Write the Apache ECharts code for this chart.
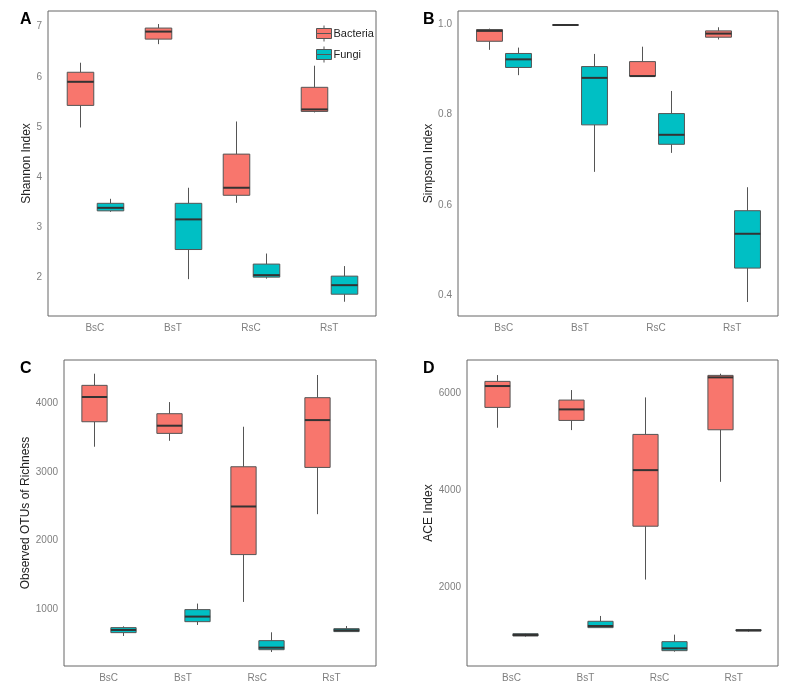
<!DOCTYPE html>
<html>
<head>
<meta charset="utf-8">
<title>Alpha diversity</title>
<script src="https://cdn.jsdelivr.net/npm/echarts@6/dist/echarts.min.js"></script>
<style>
    html, body { margin: 0; padding: 0; background: #fff; }
    #main { width: 789px; height: 689px; }
</style>
</head>
<body>
<div id="main"></div>
<script>
var groups = ['BsC', 'BsT', 'RsC', 'RsT'];

// each box: [min, Q1, median, Q3, max]
var shannonBacteria = [[4.99, 5.43, 5.90, 6.09, 6.28], [6.65, 6.75, 6.90, 6.97, 7.05], [3.49, 3.64, 3.79, 4.46, 5.11], [5.29, 5.31, 5.35, 5.79, 6.22]];
var shannonFungi = [[3.31, 3.33, 3.39, 3.48, 3.57], [1.97, 2.56, 3.16, 3.48, 3.79], [1.98, 2.01, 2.05, 2.27, 2.48], [1.52, 1.67, 1.85, 2.03, 2.23]];

var simpsonBacteria = [[0.943, 0.962, 0.985, 0.988, 0.990], [0.9975, 0.998, 0.998, 0.998, 0.9985], [0.885, 0.885, 0.885, 0.917, 0.950], [0.966, 0.971, 0.979, 0.985, 0.993]];
var simpsonFungi = [[0.887, 0.904, 0.922, 0.935, 0.948], [0.673, 0.777, 0.881, 0.906, 0.934], [0.715, 0.734, 0.755, 0.802, 0.852], [0.385, 0.460, 0.536, 0.587, 0.639]];

var otuBacteria = [[3367, 3732, 4093, 4263, 4433], [3454, 3562, 3674, 3849, 4019], [1102, 1793, 2495, 3075, 3659], [2383, 3065, 3756, 4083, 4414]];
var otuFungi = [[605, 654, 693, 727, 746], [766, 814, 888, 990, 1078], [371, 405, 435, 537, 659], [669, 669, 688, 712, 751]];

var aceBacteria = [[5290, 5710, 6152, 6248, 6379], [5241, 5441, 5669, 5862, 6069], [2152, 3255, 4414, 5152, 5917], [4172, 5248, 6331, 6372, 6407]];
var aceFungi = [[972, 986, 1007, 1034, 1041], [1159, 1159, 1193, 1290, 1400], [662, 683, 731, 869, 1014], [1076, 1090, 1103, 1117, 1131]];

var shannonTicks = [2, 3, 4, 5, 6, 7];
var simpsonTicks = [0.4, 0.6, 0.8, 1.0];
var otuTicks = [1000, 2000, 3000, 4000];
var aceTicks = [2000, 4000, 6000];

var BAC_COLOR = '#F8766D';
var FUN_COLOR = '#00BFC4';
var DODGE = 0.19;
var BOX_HALF = 0.17;

var panels = [
    { letter: 'A', name: 'Shannon Index', bac: shannonBacteria, fun: shannonFungi, ticks: shannonTicks,
      min: 1.236, max: 7.31, digits: 0, grid: { left: 48, top: 11, width: 328, height: 305 }, nameGap: 14, title: [20, 12] },
    { letter: 'B', name: 'Simpson Index', bac: simpsonBacteria, fun: simpsonFungi, ticks: simpsonTicks,
      min: 0.354, max: 1.029, digits: 1, grid: { left: 458, top: 11, width: 320, height: 305 }, nameGap: 21, title: [423, 12] },
    { letter: 'C', name: 'Observed OTUs of Richness', bac: otuBacteria, fun: otuFungi, ticks: otuTicks,
      min: 167, max: 4633, digits: 0, grid: { left: 64, top: 360, width: 312, height: 306 }, nameGap: 29, title: [20, 361] },
    { letter: 'D', name: 'ACE Index', bac: aceBacteria, fun: aceFungi, ticks: aceTicks,
      min: 366, max: 6690, digits: 0, grid: { left: 467, top: 360, width: 311, height: 306 }, nameGap: 30, title: [423, 361] }
];

function boxItems(boxes, shift) {
    var out = [];
    for (var i = 0; i < boxes.length; i++) {
        out.push([i + 1 + shift].concat(boxes[i]));
    }
    return out;
}

function boxRenderer(fill) {
    return function (params, api) {
        var x = api.value(0);
        var lo = api.coord([x, api.value(1)]);
        var q1 = api.coord([x, api.value(2)]);
        var md = api.coord([x, api.value(3)]);
        var q3 = api.coord([x, api.value(4)]);
        var hi = api.coord([x, api.value(5)]);
        var hw = api.size([BOX_HALF * 2, 0])[0] / 2;
        var cx = Math.round(md[0]) + 0.5;
        return {
            type: 'group',
            children: [
                { type: 'line', shape: { x1: cx, y1: hi[1], x2: cx, y2: q3[1] }, style: { stroke: '#555', lineWidth: 1 } },
                { type: 'line', shape: { x1: cx, y1: q1[1], x2: cx, y2: lo[1] }, style: { stroke: '#555', lineWidth: 1 } },
                { type: 'rect', shape: { x: cx - hw, y: q3[1], width: hw * 2, height: q1[1] - q3[1] },
                  style: { fill: fill, stroke: '#555', lineWidth: 1 } },
                { type: 'line', shape: { x1: cx - hw, y1: md[1], x2: cx + hw, y2: md[1] }, style: { stroke: '#333', lineWidth: 2 } }
            ]
        };
    };
}

var option = {
    animation: false,
    textStyle: { fontFamily: 'Liberation Sans, Arial, sans-serif' },
    title: [],
    grid: [],
    xAxis: [],
    yAxis: [],
    series: [],
    legend: {
        left: 316,
        top: 25,
        padding: 0,
        orient: 'vertical',
        itemWidth: 15,
        itemHeight: 16,
        itemGap: 4,
        selectedMode: false,
        textStyle: { fontSize: 11, color: '#222', padding: [0, 0, 0, -3] },
        data: [
            { name: 'Bacteria', icon: 'path://M7.5,0V3M0,3H15V8H0ZM0,8H15V13H0ZM7.5,13V16',
              itemStyle: { color: BAC_COLOR, borderColor: '#555', borderWidth: 1 } },
            { name: 'Fungi', icon: 'path://M7.5,0V3M0,3H15V8H0ZM0,8H15V13H0ZM7.5,13V16',
              itemStyle: { color: FUN_COLOR, borderColor: '#555', borderWidth: 1 } }
        ]
    }
};

panels.forEach(function (p, k) {
    option.title.push({
        text: p.letter, left: p.title[0], top: p.title[1], padding: 0,
        textStyle: { fontSize: 16, fontWeight: 'bold', color: '#000' }
    });
    option.grid.push({
        left: p.grid.left, top: p.grid.top, width: p.grid.width, height: p.grid.height,
        show: true, borderColor: '#666', borderWidth: 1, backgroundColor: 'transparent'
    });
    option.xAxis.push({
        type: 'value', gridIndex: k, min: 0.4, max: 4.6,
        axisLine: { show: false }, axisTick: { show: false }, splitLine: { show: false },
        axisLabel: {
            customValues: [1, 2, 3, 4], margin: 7, fontSize: 10, color: '#7f7f7f',
            formatter: function (v) { return groups[Math.round(v) - 1]; }
        }
    });
    option.yAxis.push({
        type: 'value', gridIndex: k, min: p.min, max: p.max,
        name: p.name, nameLocation: 'middle', nameGap: p.nameGap, nameRotate: 90,
        nameTextStyle: { fontSize: 12, color: '#222' },
        axisLine: { show: false }, axisTick: { show: false }, splitLine: { show: false },
        axisLabel: {
            customValues: p.ticks, margin: 6, fontSize: 10, color: '#7f7f7f',
            formatter: function (v) { return v.toFixed(p.digits); }
        }
    });
    option.series.push({
        name: 'Bacteria', type: 'custom', xAxisIndex: k, yAxisIndex: k,
        itemStyle: { color: BAC_COLOR, borderColor: '#555', borderWidth: 1 },
        encode: { x: 0, y: [1, 2, 3, 4, 5] },
        renderItem: boxRenderer(BAC_COLOR),
        data: boxItems(p.bac, -DODGE)
    });
    option.series.push({
        name: 'Fungi', type: 'custom', xAxisIndex: k, yAxisIndex: k,
        itemStyle: { color: FUN_COLOR, borderColor: '#555', borderWidth: 1 },
        encode: { x: 0, y: [1, 2, 3, 4, 5] },
        renderItem: boxRenderer(FUN_COLOR),
        data: boxItems(p.fun, DODGE)
    });
});

var chart = echarts.init(document.getElementById('main'));
chart.setOption(option);
</script>
</body>
</html>
